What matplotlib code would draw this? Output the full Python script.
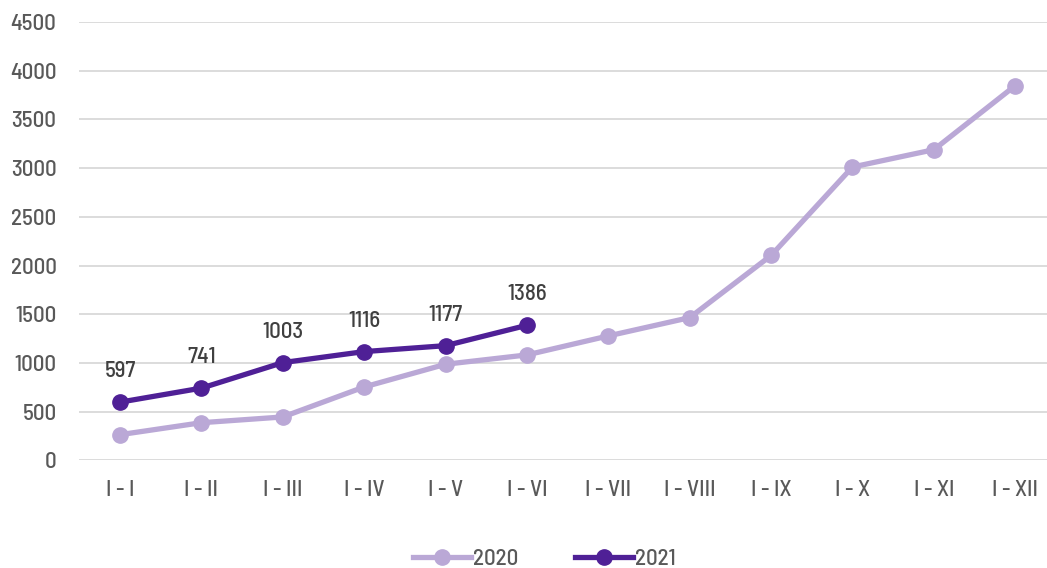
import matplotlib
matplotlib.use("Agg")
import matplotlib.pyplot as plt

months = ["I - I", "I - II", "I - III", "I - IV", "I - V", "I - VI",
          "I - VII", "I - VIII", "I - IX", "I - X", "I - XI", "I - XII"]
values_2020 = [263, 386, 445, 753, 986, 1082, 1277, 1465, 2103, 3011, 3189, 3847]
values_2021 = [597, 741, 1003, 1116, 1177, 1386]

col_2020 = "#BAA8D6"
col_2021 = "#4F2096"
txt = "#595959"

plt.rcParams["font.family"] = ["Barlow Semi Condensed", "DejaVu Sans"]
plt.rcParams["font.weight"] = "medium"

fig = plt.figure(figsize=(10.47, 5.68), dpi=100)
ax = fig.add_axes([79.3 / 1047, (568 - 460.3) / 568, 1 - 79.3 / 1047, (460.3 - 22) / 568])

x20 = list(range(len(values_2020)))
x21 = list(range(len(values_2021)))
ax.plot(x20, values_2020, color=col_2020, lw=3.8, marker="o", ms=11, label="2020", zorder=3)
ax.plot(x21, values_2021, color=col_2021, lw=3.8, marker="o", ms=11, label="2021", zorder=4)

for x, v in zip(x21, values_2021):
    ax.annotate(str(v), (x, v), xytext=(0, 15), textcoords="offset points",
                ha="center", va="bottom", fontsize=16.5, color="#404040")

ax.set_ylim(0, 4500)
ax.set_yticks(range(0, 4501, 500))
ax.set_xlim(-0.5, 11.39)
ax.set_xticks(x20)
ax.set_xticklabels(months)
ax.grid(axis="y", color="#D9D9D9", lw=1.3)
ax.set_axisbelow(True)
for s in ax.spines.values():
    s.set_visible(False)
ax.tick_params(length=0, labelsize=16.5, colors=txt)
ax.tick_params(axis="x", pad=14)
ax.tick_params(axis="y", pad=16.5)

fig.legend(loc="lower center", bbox_to_anchor=(0.52, -0.038), ncol=2, frameon=False,
           fontsize=16.5, labelcolor=txt, handlelength=2.5, handletextpad=0.1,
           columnspacing=2.5)

fig.savefig("out.png", dpi=100)
